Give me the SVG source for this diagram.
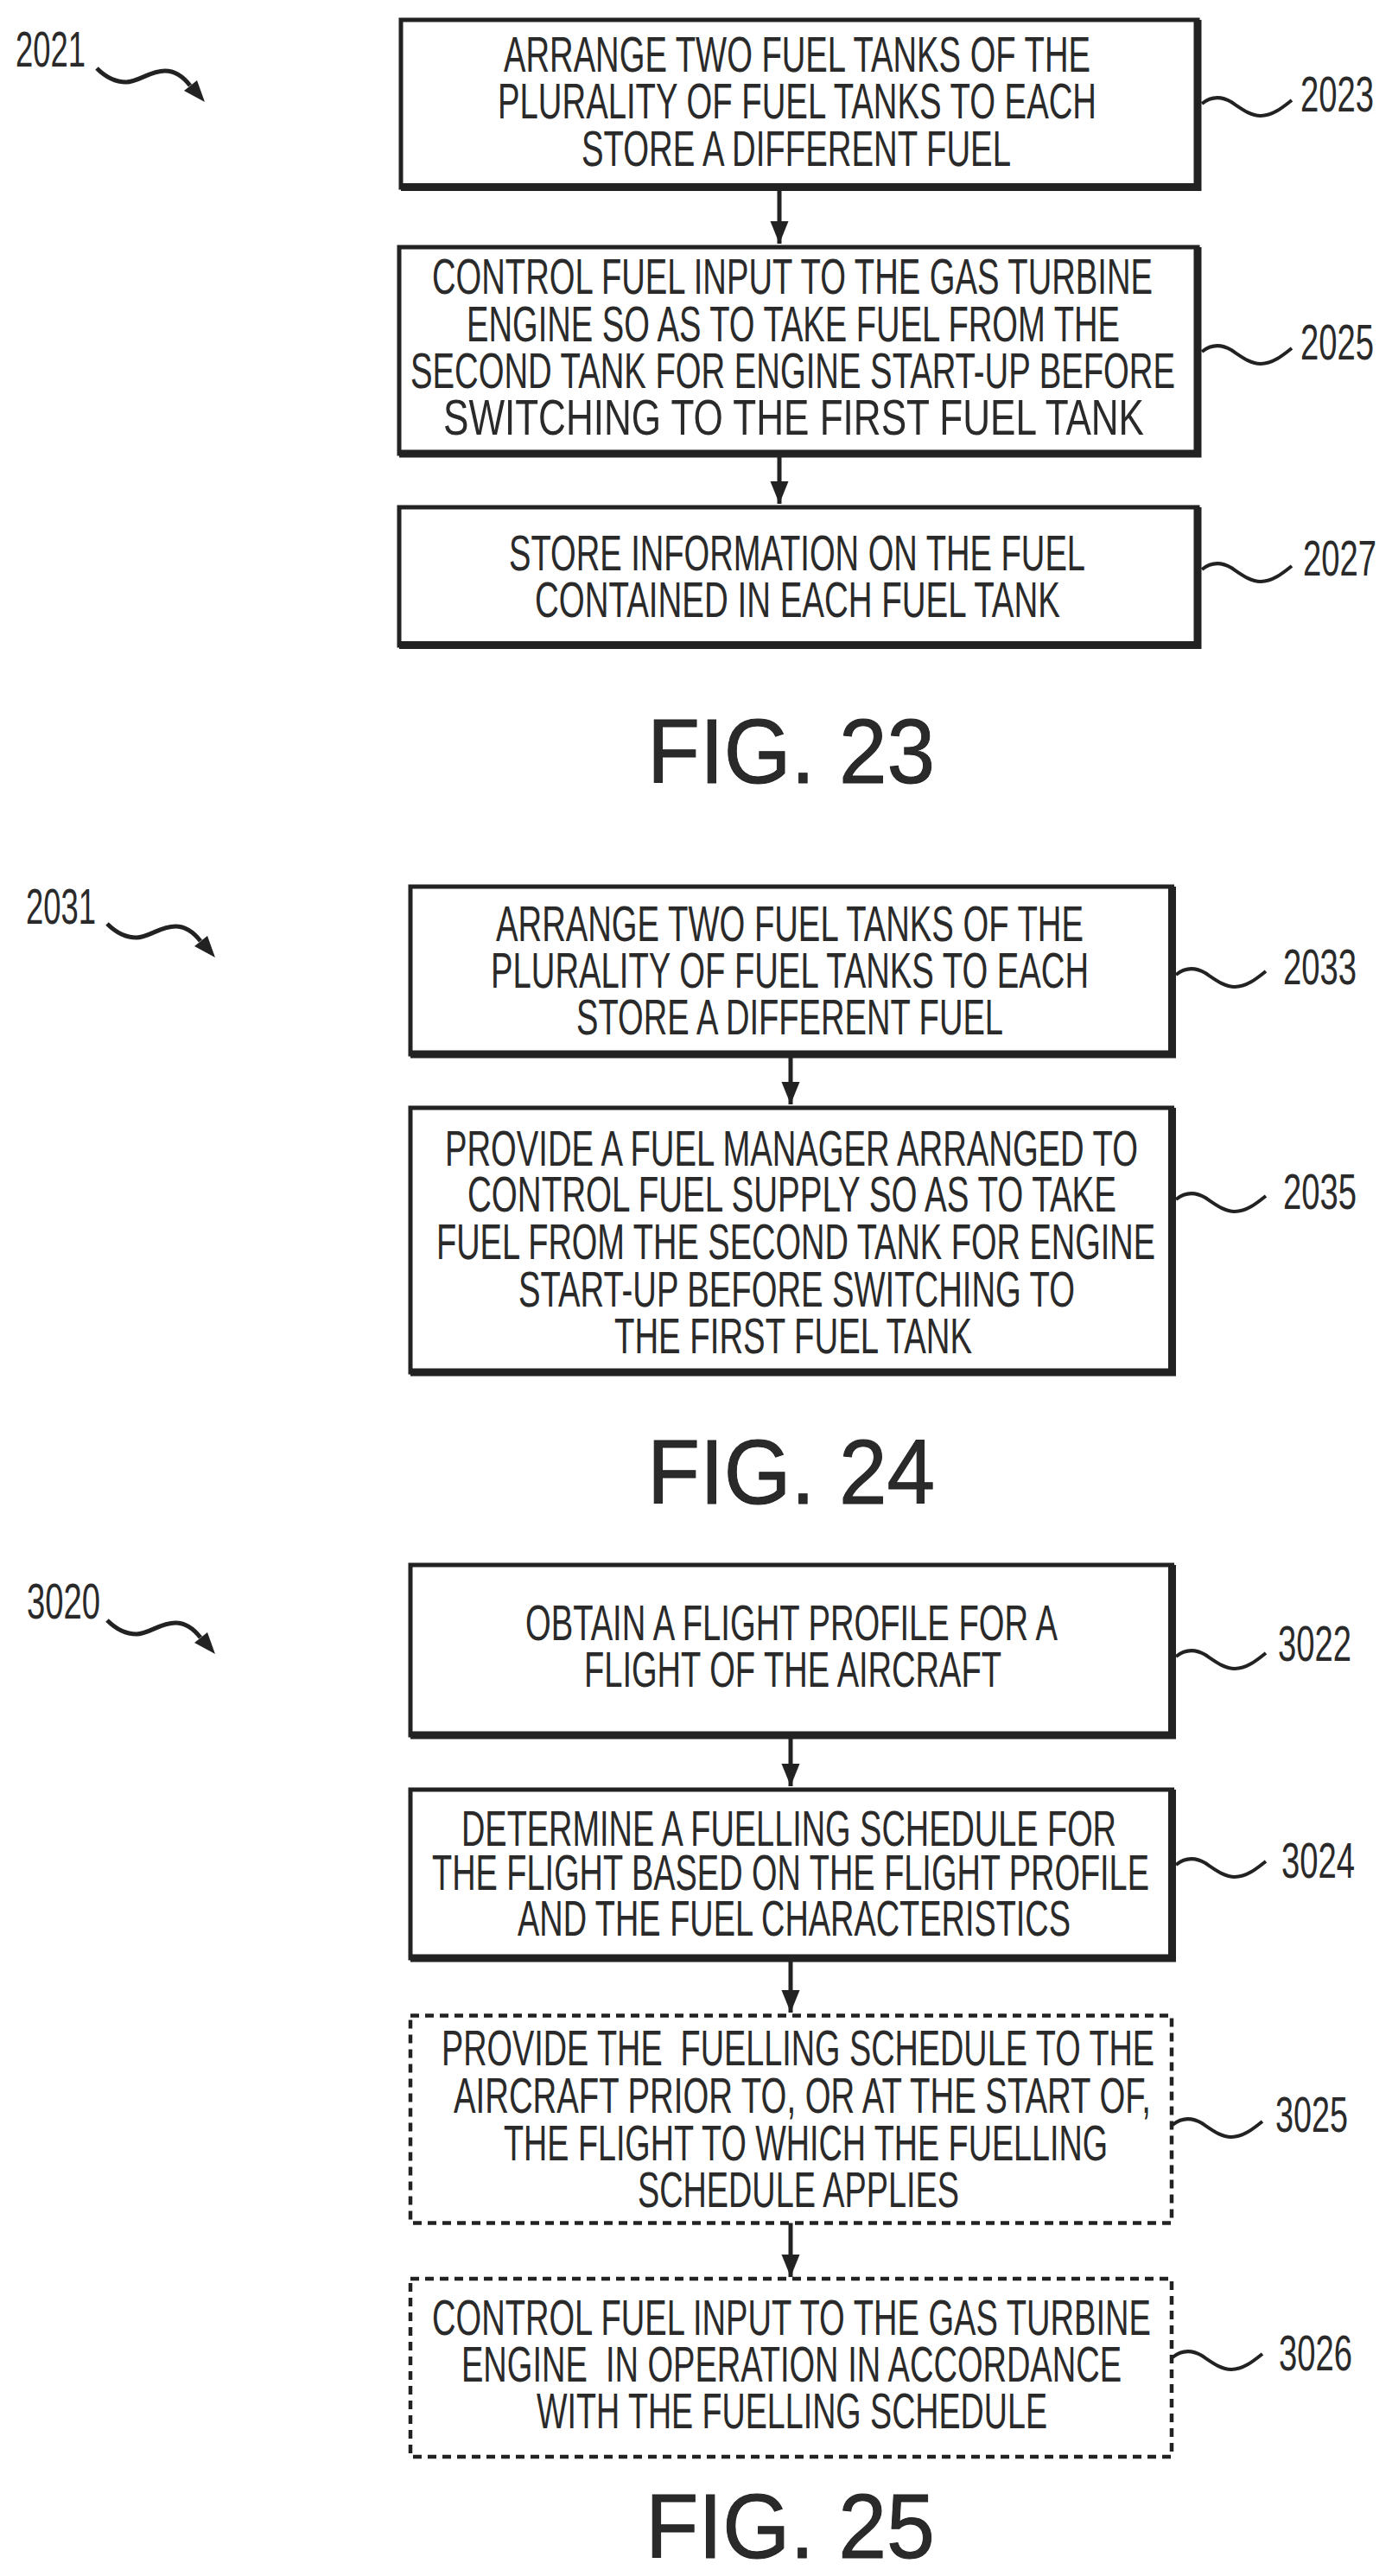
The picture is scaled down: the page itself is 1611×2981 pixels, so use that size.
<svg xmlns="http://www.w3.org/2000/svg" width="1611" height="2981" viewBox="0 0 1611 2981">
<style>
text{font-family:"Liberation Sans",Arial,sans-serif;fill:#2a2a2a;white-space:pre;font-size:37px}
.f{font-size:106px;stroke:#222;stroke-width:1}
.b{fill:#fff;stroke:#222;stroke-width:5}
.e{fill:none;stroke:#222;stroke-width:9}
.d{fill:#fff;stroke:#222;stroke-width:4.5;stroke-dasharray:10 7}
.c{fill:none;stroke:#222;stroke-width:5}
.s{fill:none;stroke:#222;stroke-width:4}
.l{fill:none;stroke:#222;stroke-width:5}
.h{fill:#222}
</style>
<defs>
<marker id="ah" markerUnits="userSpaceOnUse" markerWidth="28" markerHeight="24" refX="26" refY="11" orient="auto"><path d="M0 0.5L26 11L0 21.5Z" fill="#222"/></marker>
<path id="sq" d="M0 0C10 -8 22 -9 34 -2C46 6 56 14 68 14C82 14 94 4 104 -4"/>
<g id="lead"><path class="l" d="M112 79C123 90 133 95 146 95C160 95 173 82 191 82C203 82 213 90 220 99"/><path class="h" d="M213 105L228 93L237 118Z"/></g>
</defs>
<g id="connectors">
<path class="c" marker-end="url(#ah)" d="M902 219V282"/>
<path class="c" marker-end="url(#ah)" d="M902 527V583"/>
<path class="c" marker-end="url(#ah)" d="M915 1222V1278"/>
<path class="c" marker-end="url(#ah)" d="M915 2010V2067"/>
<path class="c" marker-end="url(#ah)" d="M915 2269V2329"/>
<path class="c" marker-end="url(#ah)" d="M915 2572V2635"/>
<use href="#lead"/>
<use href="#lead" x="12" y="990"/>
<use href="#lead" x="12" y="1796"/>
<use href="#sq" class="s" x="1391" y="120"/>
<use href="#sq" class="s" x="1391" y="407"/>
<use href="#sq" class="s" x="1391" y="659"/>
<use href="#sq" class="s" x="1361" y="1128"/>
<use href="#sq" class="s" x="1361" y="1388"/>
<use href="#sq" class="s" x="1361" y="1917"/>
<use href="#sq" class="s" x="1361" y="2158"/>
<use href="#sq" class="s" x="1357" y="2459"/>
<use href="#sq" class="s" x="1357" y="2728"/>
</g>
<g id="ref-2021"><text transform="matrix(1 0 0 1.567 18 77)" textLength="81" lengthAdjust="spacingAndGlyphs">2021</text></g>
<g id="node-2023">
<rect class="b" x="464" y="23" width="922" height="194"/><path class="e" d="M1386 23V216.500H464"/>
<text transform="matrix(1 0 0 1.567 583 83)" textLength="679" lengthAdjust="spacingAndGlyphs">ARRANGE TWO FUEL TANKS OF THE</text>
<text transform="matrix(1 0 0 1.567 576 137)" textLength="693" lengthAdjust="spacingAndGlyphs">PLURALITY OF FUEL TANKS TO EACH</text>
<text transform="matrix(1 0 0 1.567 673 192)" textLength="497" lengthAdjust="spacingAndGlyphs">STORE A DIFFERENT FUEL</text>
<text transform="matrix(1 0 0 1.567 1505 129)" textLength="85" lengthAdjust="spacingAndGlyphs">2023</text>
</g>
<g id="node-2025">
<rect class="b" x="462" y="286" width="924" height="239"/><path class="e" d="M1386 286V525H462"/>
<text transform="matrix(1 0 0 1.567 500 340)" textLength="834" lengthAdjust="spacingAndGlyphs">CONTROL FUEL INPUT TO THE GAS TURBINE</text>
<text transform="matrix(1 0 0 1.567 540 395)" textLength="756" lengthAdjust="spacingAndGlyphs">ENGINE SO AS TO TAKE FUEL FROM THE</text>
<text transform="matrix(1 0 0 1.567 475 449)" textLength="885" lengthAdjust="spacingAndGlyphs">SECOND TANK FOR ENGINE START-UP BEFORE</text>
<text transform="matrix(1 0 0 1.567 513 503)" textLength="811" lengthAdjust="spacingAndGlyphs">SWITCHING TO THE FIRST FUEL TANK</text>
<text transform="matrix(1 0 0 1.567 1505 416)" textLength="85" lengthAdjust="spacingAndGlyphs">2025</text>
</g>
<g id="node-2027">
<rect class="b" x="462" y="587" width="924" height="160"/><path class="e" d="M1386 587V746.500H462"/>
<text transform="matrix(1 0 0 1.567 589 660)" textLength="667" lengthAdjust="spacingAndGlyphs">STORE INFORMATION ON THE FUEL</text>
<text transform="matrix(1 0 0 1.567 619 714)" textLength="608" lengthAdjust="spacingAndGlyphs">CONTAINED IN EACH FUEL TANK</text>
<text transform="matrix(1 0 0 1.567 1508 666)" textLength="85" lengthAdjust="spacingAndGlyphs">2027</text>
</g>
<text class="f" x="749" y="906" textLength="333" lengthAdjust="spacingAndGlyphs">FIG. 23</text>
<g id="ref-2031"><text transform="matrix(1 0 0 1.567 30 1069)" textLength="81" lengthAdjust="spacingAndGlyphs">2031</text></g>
<g id="node-2033">
<rect class="b" x="475" y="1026" width="881.500" height="194"/><path class="e" d="M1356.500 1026V1220H475"/>
<text transform="matrix(1 0 0 1.567 574 1089)" textLength="680" lengthAdjust="spacingAndGlyphs">ARRANGE TWO FUEL TANKS OF THE</text>
<text transform="matrix(1 0 0 1.567 568 1143)" textLength="692" lengthAdjust="spacingAndGlyphs">PLURALITY OF FUEL TANKS TO EACH</text>
<text transform="matrix(1 0 0 1.567 667 1197)" textLength="494" lengthAdjust="spacingAndGlyphs">STORE A DIFFERENT FUEL</text>
<text transform="matrix(1 0 0 1.567 1485 1139)" textLength="85" lengthAdjust="spacingAndGlyphs">2033</text>
</g>
<g id="node-2035">
<rect class="b" x="475" y="1282" width="881.500" height="306"/><path class="e" d="M1356.500 1282V1588H475"/>
<text transform="matrix(1 0 0 1.567 515 1349)" textLength="802" lengthAdjust="spacingAndGlyphs">PROVIDE A FUEL MANAGER ARRANGED TO</text>
<text transform="matrix(1 0 0 1.567 541 1402)" textLength="751" lengthAdjust="spacingAndGlyphs">CONTROL FUEL SUPPLY SO AS TO TAKE</text>
<text transform="matrix(1 0 0 1.567 505 1457)" textLength="832" lengthAdjust="spacingAndGlyphs">FUEL FROM THE SECOND TANK FOR ENGINE</text>
<text transform="matrix(1 0 0 1.567 600 1512)" textLength="644" lengthAdjust="spacingAndGlyphs">START-UP BEFORE SWITCHING TO</text>
<text transform="matrix(1 0 0 1.567 711 1566)" textLength="414" lengthAdjust="spacingAndGlyphs">THE FIRST FUEL TANK</text>
<text transform="matrix(1 0 0 1.567 1485 1399)" textLength="85" lengthAdjust="spacingAndGlyphs">2035</text>
</g>
<text class="f" x="749" y="1740" textLength="333" lengthAdjust="spacingAndGlyphs">FIG. 24</text>
<g id="ref-3020"><text transform="matrix(1 0 0 1.567 31 1873)" textLength="85" lengthAdjust="spacingAndGlyphs">3020</text></g>
<g id="node-3022">
<rect class="b" x="475" y="1811" width="881.500" height="197"/><path class="e" d="M1356.500 1811V2008H475"/>
<text transform="matrix(1 0 0 1.567 608 1898)" textLength="616" lengthAdjust="spacingAndGlyphs">OBTAIN A FLIGHT PROFILE FOR A</text>
<text transform="matrix(1 0 0 1.567 676 1952)" textLength="483" lengthAdjust="spacingAndGlyphs">FLIGHT OF THE AIRCRAFT</text>
<text transform="matrix(1 0 0 1.567 1479 1922)" textLength="85" lengthAdjust="spacingAndGlyphs">3022</text>
</g>
<g id="node-3024">
<rect class="b" x="475" y="2071" width="881.500" height="195"/><path class="e" d="M1356.500 2071V2266H475"/>
<text transform="matrix(1 0 0 1.567 534 2136)" textLength="758" lengthAdjust="spacingAndGlyphs">DETERMINE A FUELLING SCHEDULE FOR</text>
<text transform="matrix(1 0 0 1.567 500 2187)" textLength="830" lengthAdjust="spacingAndGlyphs">THE FLIGHT BASED ON THE FLIGHT PROFILE</text>
<text transform="matrix(1 0 0 1.567 599 2240)" textLength="640" lengthAdjust="spacingAndGlyphs">AND THE FUEL CHARACTERISTICS</text>
<text transform="matrix(1 0 0 1.567 1483 2173)" textLength="85" lengthAdjust="spacingAndGlyphs">3024</text>
</g>
<g id="node-3025">
<rect class="d" x="475" y="2332.500" width="881" height="240"/>
<text transform="matrix(1 0 0 1.567 511 2390)" textLength="825" lengthAdjust="spacingAndGlyphs">PROVIDE THE  FUELLING SCHEDULE TO THE</text>
<text transform="matrix(1 0 0 1.567 525 2445)" textLength="807" lengthAdjust="spacingAndGlyphs">AIRCRAFT PRIOR TO, OR AT THE START OF,</text>
<text transform="matrix(1 0 0 1.567 583 2500)" textLength="699" lengthAdjust="spacingAndGlyphs">THE FLIGHT TO WHICH THE FUELLING</text>
<text transform="matrix(1 0 0 1.567 738 2554)" textLength="372" lengthAdjust="spacingAndGlyphs">SCHEDULE APPLIES</text>
<text transform="matrix(1 0 0 1.567 1476 2467)" textLength="84" lengthAdjust="spacingAndGlyphs">3025</text>
</g>
<g id="node-3026">
<rect class="d" x="475" y="2637" width="881" height="206"/>
<text transform="matrix(1 0 0 1.567 500 2702)" textLength="832" lengthAdjust="spacingAndGlyphs">CONTROL FUEL INPUT TO THE GAS TURBINE</text>
<text transform="matrix(1 0 0 1.567 534 2756)" textLength="764" lengthAdjust="spacingAndGlyphs">ENGINE  IN OPERATION IN ACCORDANCE</text>
<text transform="matrix(1 0 0 1.567 621 2810)" textLength="591" lengthAdjust="spacingAndGlyphs">WITH THE FUELLING SCHEDULE</text>
<text transform="matrix(1 0 0 1.567 1480 2743)" textLength="85" lengthAdjust="spacingAndGlyphs">3026</text>
</g>
<text class="f" x="747" y="2960" textLength="335" lengthAdjust="spacingAndGlyphs">FIG. 25</text>
</svg>
